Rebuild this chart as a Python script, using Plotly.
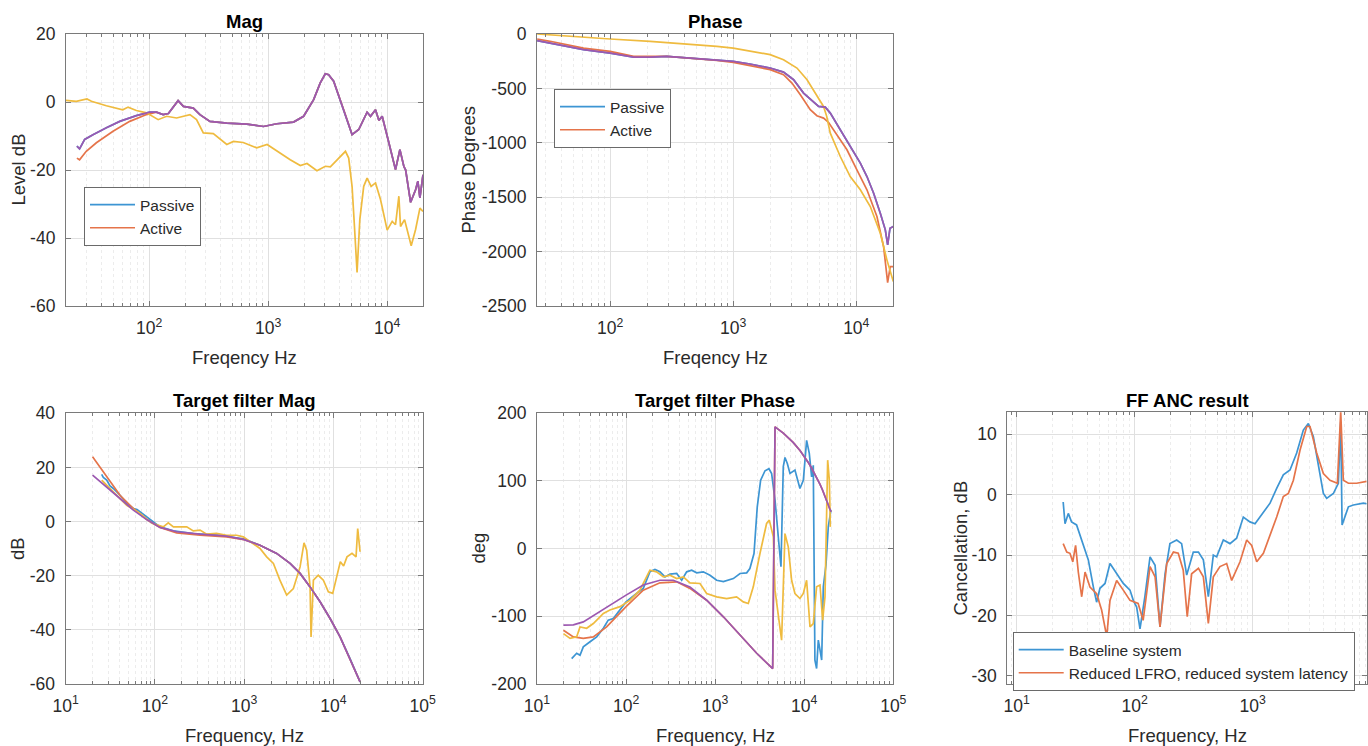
import plotly.graph_objects as go

# ---------------- colours ----------------
BLUE = '#3d95d3'
ORANGE = '#e5744a'
YELLOW = '#efbb3f'
PURPLE = '#9c58b0'

# ---------------- Panel 1 : Mag ----------------
mag_purple_f = [24.7, 26, 28.7, 33.7, 43.7, 56.6, 78, 101, 115, 131, 145, 175, 194, 235, 267, 324, 449, 661, 912, 1183,
                1633, 1985, 2410, 2740, 3020, 3220, 3550, 4310, 5070, 5770, 6780, 7240, 7980, 8510, 9080, 10330, 11750,
                12790, 13800, 14300, 15740, 17330, 18110, 18840, 20000]
mag_purple_db = [-13.0, -13.8, -11.0, -9.6, -7.6, -5.7, -4.0, -3.0, -3.0, -3.7, -3.4, 0.4, -1.3, -1.8, -3.7, -5.7, -6.2,
                 -6.5, -7.2, -6.4, -5.9, -4.2, 0.7, 5.6, 8.3, 8.0, 6.1, -2.3, -9.6, -8.1, -3.0, -4.2, -2.3, -5.4, -4.2,
                 -12, -19.9, -14, -18.9, -20, -29.5, -25.8, -23.3, -28.2, -21.4]
mag_passive_f = mag_purple_f
mag_passive_db = mag_purple_db
mag_active_f = [24.7, 26, 29.6, 36, 49.7, 68.7, 95, 115, 131, 145, 175, 194, 235, 267, 324, 449, 661, 912, 1183, 1633,
                1985, 2410, 2740, 3020, 3220, 3550, 4310, 5070, 5770, 6780, 7240, 7980, 8510, 9080, 10330, 11750,
                12790, 13800, 14300, 15740, 17330, 18110, 18840, 20000]
mag_active_db = [-16.5, -17.0, -14.5, -12.0, -8.6, -5.7, -3.7, -3.0, -3.7, -3.4, 0.4, -1.3, -1.8, -3.7, -5.7, -6.2,
                 -6.5, -7.2, -6.4, -5.9, -4.2, 0.7, 5.6, 8.3, 8.0, 6.1, -2.3, -9.6, -8.1, -3.0, -4.2, -2.3, -5.4, -4.2,
                 -12, -19.9, -14, -18.9, -20, -29.5, -25.8, -23.3, -28.2, -21.4]
mag_yellow_f = [20, 24.4, 30, 32.7, 43.7, 60, 66.5, 78, 95, 119, 140, 170, 220, 250, 285, 346, 449, 510, 617, 802,
                980, 1183, 1532, 1862, 2120, 2570, 3020, 3330, 3793, 4460, 4750, 5070, 5310, 5585, 5890, 6350, 6780,
                7330, 7980, 8790, 10000, 11020, 11750, 12540, 12940, 14000, 15920, 17330, 18840, 20000]
mag_yellow_db = [0.5, 0.2, 0.9, 0.2, -1.1, -2.3, -1.5, -2.5, -3.2, -5.2, -4.2, -4.7, -3.7, -5.2, -9.1, -9.3, -12.5,
                 -11.6, -11.9, -13.5, -12.5, -14.5, -17, -18.7, -18.1, -20.2, -18.9, -19.1, -17, -14.5, -16.5, -24.8,
                 -36.6, -50.1, -34.6, -24.8, -22.4, -24.8, -23.8, -28.7, -37.7, -35.1, -36.1, -27.7, -36.6, -34.6,
                 -42.3, -37.5, -31.2, -32.2]

# ---------------- Panel 2 : Phase ----------------
ph_purple_f = [25.5, 32.5, 44.5, 60.7, 100, 155, 211, 289, 447, 736, 1000, 1368, 1995, 2563, 3094, 3730, 4496, 4943,
               5600, 6150, 7413, 8930, 10790, 12210, 13840, 15680, 17220, 17990, 18800, 20000]
ph_purple_deg = [-61, -83, -113, -144, -175, -212, -212, -205, -221, -236, -251, -276, -313, -350, -420, -543, -620,
                 -666, -672, -727, -880, -1034, -1187, -1310, -1463, -1647, -1800, -1938, -1785, -1770]
ph_passive_f = ph_purple_f
ph_passive_deg = ph_purple_deg
ph_active_f = [25.5, 32.5, 60.7, 100, 155, 289, 736, 1000, 1368, 1995, 2563, 3000, 3510, 4227, 4786, 5420, 5960, 6966,
               8400, 10120, 12210, 14720, 16680, 17990, 18880, 20000]
ph_active_deg = [-46, -67, -129, -159, -205, -205, -242, -261, -291, -328, -374, -451, -558, -696, -751, -773, -813,
                 -926, -1064, -1248, -1432, -1678, -1954, -2285, -2138, -2138]
ph_yellow_f = [25.5, 44.5, 100, 211, 395, 736, 1000, 1368, 1995, 2563, 3296, 3980, 4786, 5420, 5750, 6150, 7413, 8930,
               10790, 13000, 15680, 17740, 20000]
ph_yellow_deg = [0, -21, -46, -67, -89, -113, -129, -159, -190, -236, -313, -420, -573, -666, -757, -911, -1126, -1310,
                 -1432, -1586, -1831, -2076, -2276]

# ---------------- Panel 3 : Target filter Mag ----------------
tm_purple_f = [20, 28.8, 40.6, 57.3, 80.8, 114, 175, 320, 637, 1000, 1503, 2310, 3264, 4227, 5470, 7080, 9170, 11860,
               15350, 19870]
tm_purple_db = [17.1, 12.8, 8.5, 4.2, 0.7, -2.2, -3.8, -4.7, -5.4, -6.7, -8.8, -11.8, -15.5, -19.2, -24.2, -29.7,
                -35.9, -42.7, -50.7, -59.3]
tm_orange_f = [20, 28.8, 40.6, 57.3, 80.8, 114, 175, 320, 637, 1000, 1503, 2310, 3264, 4227, 5470, 7080, 9170, 11860,
               15350, 19870]
tm_orange_db = [23.9, 16.5, 9.7, 4.8, 0.7, -2.2, -4.2, -5.1, -5.7, -6.7, -8.8, -11.8, -15.5, -19.2, -24.2, -29.7,
                -35.9, -42.7, -50.7, -59.3]
tm_blue_f = [25.3, 26.4, 28.8, 31.4, 34.2, 40.6, 48.3, 57.3, 63, 71.7, 92.7, 114, 161, 269, 490, 977]
tm_blue_db = [17.4, 16.3, 15.3, 13.1, 12.2, 9.7, 6.7, 4.8, 4.4, 3.0, -0.1, -2.0, -3.5, -4.5, -5.0, -6.4]
tm_yellow_f = [25.3, 34.2, 48.3, 68, 92.7, 124, 141, 161, 227, 269, 320, 380, 490, 637, 824, 977, 1503, 1786, 2124,
               2512, 2992, 3556, 4227, 4680, 5010, 5470, 5610, 5960, 6760, 7710, 8770, 9810, 11350, 11940, 13000,
               14180, 16140, 17910, 18700, 19870]
tm_yellow_db = [15.3, 11, 6, 3, -0.7, -2, -0.5, -2, -2, -3.5, -3.2, -4.7, -4.4, -5.1, -5.1, -5.7, -10, -13.1, -15.5,
                -21.7, -27.2, -24.8, -16.8, -7.9, -10.6, -24.2, -42.7, -21.7, -19.9, -21.7, -26, -26.6, -18, -14.9,
                -16.5, -13.1, -11.8, -13.1, -2.6, -11.2]

# ---------------- Panel 4 : Target filter Phase ----------------
tp_purple_f = [19.8, 25.6, 33.1, 46.8, 65.9, 100, 156, 240, 339, 521, 803, 1237, 1903, 2927, 4424, 4700, 5820, 6500,
               7500, 8960, 10000, 11000, 12000, 13780, 15000, 16000, 17000, 18000, 19950]
tp_purple_deg = [-113.4, -113, -108.5, -96, -84, -69, -54, -47, -47, -57, -76.5, -101, -128, -155, -177.6, 180, 170.8,
                 165.2, 156.9, 144.9, 136.3, 128.1, 119.8, 105.2, 95.1, 86.9, 78.7, 70.4, 54.3]
tp_orange_f = [19.8, 25.6, 33.1, 42.9, 60.5, 100, 156, 240, 370, 521, 803, 1237, 1903, 2927, 4424]
tp_orange_deg = [-121, -130.7, -133, -130.7, -116, -86, -61.6, -50.8, -49.3, -59, -76.5, -101, -128, -155, -177.6]
tp_blue_f = [24.5, 27.9, 30.4, 33.1, 39.4, 46.8, 55.6, 63, 71.9, 85.5, 100, 131, 156, 185, 211, 240, 273, 311, 370,
             421, 479, 545, 620, 736, 875, 1040, 1237, 1600, 1903, 2260, 2455, 2730, 2970, 3240, 3630, 4020, 4305,
             4700, 5120, 5480, 5820, 6080, 6460, 6920, 7870, 8950, 9770, 10640, 11400, 12110, 12640, 13180, 13770,
             14390, 15030, 15700, 16380, 17540, 18620, 19950]
tp_blue_deg = [-163, -155, -158, -145.5, -138, -130.7, -118, -106, -103.6, -91, -79, -66.6, -59, -34.5, -31, -34.5,
               -42, -38, -37, -47, -34.5, -32, -36, -34.5, -39.5, -47, -49, -44.5, -37, -36, -29.6, -7.4, 61.7, 101,
               115, 118, 111, 71.5, 17.3, -27, 121, 134.6, 125.8, 111, 116, 88.8, 101, 160, 140.6, 106, 123, -165,
               -177.6, -135.6, -150, -165, -56.7, -24.7, 32, 56.7]
tp_yellow_f = [19.8, 23.5, 27.9, 30.4, 36.1, 42.9, 55.6, 65.9, 85.5, 111, 143, 185, 220, 262, 311, 370, 440, 521, 676,
               803, 1040, 1345, 1740, 2070, 2355, 2680, 3185, 3780, 4055, 4500, 4700, 5120, 5570, 6080, 6620, 7220,
               7870, 8950, 9770, 10640, 11610, 12640, 13770, 15030, 16100, 17100, 18330, 19140, 19640]
tp_yellow_deg = [-126, -133, -130.7, -116, -118, -111, -96, -91, -86, -76.5, -61.6, -32, -34.5, -42, -39.5, -44.4,
                 -42, -50.8, -51.8, -66.6, -71.5, -74, -71.5, -79, -81.4, -56.7, -7.4, 37, 42, 17.3, -61.6, -96,
                 -135.6, 22, 2.5, -47, -66.6, -74, -66.6, -47, -116, -111, -56.7, -54, -106, -71.5, 130.7, 101, 32]

# ---------------- Panel 5 : FF ANC result ----------------
anc_base_f = [24.8, 25.7, 27.4, 29.2, 32.2, 36.7, 40.5, 44.7, 47.6, 50.8, 56.1, 61.8, 70.4, 80.1, 91.3, 97.4, 104,
              111, 122, 135, 149, 164, 181, 199, 227, 250, 276, 314, 347, 382, 421, 464, 495, 564, 642, 731, 833,
              948, 1047, 1232, 1403, 1597, 1818, 2071, 2359, 2686, 2963, 3268, 3600, 3971, 4237, 4826, 5320, 5570,
              5720, 6060, 6470, 7130, 8670, 9250]
anc_base_db = [-1.2, -4.8, -3.1, -4.5, -5.0, -8.1, -10.8, -15.3, -17.8, -15.5, -14.7, -11.4, -13.1, -14.7, -15.8,
               -17.5, -18.6, -22.2, -16.9, -10.3, -11.7, -21.9, -13.1, -8.1, -7.5, -8.1, -13.3, -9.5, -9.5, -10.8,
               -16.9, -10.0, -10.3, -7.5, -8.1, -7.2, -3.7, -4.5, -4.8, -2.8, -1.4, 1.05, 3.3, 4.1, 6.9, 10.7, 11.8,
               9.6, 5.2, 0.2, -0.6, 0.2, 1.9, 12.0, -5.0, -3.5, -2.0, -1.7, -1.4, -1.5]
anc_red_f = [24.8, 26.6, 28.3, 29.9, 31.6, 33.3, 35.6, 38, 41.8, 47.6, 52.5, 58, 61.8, 70.4, 80.1, 91.3, 107, 118,
             135, 149, 164, 187, 213, 234, 258, 279, 304, 347, 382, 421, 464, 528, 602, 664, 781, 890, 981, 1082,
             1232, 1403, 1597, 1818, 2004, 2212, 2520, 2870, 3060, 3487, 3971, 4520, 5220, 5570, 5860, 6470, 7600,
             9250]
anc_red_db = [-8.1, -9.5, -9.7, -11.1, -8.4, -12.8, -16.9, -12.8, -15.3, -16.4, -19.1, -23.5, -17.5, -14.2, -15.8,
              -17.5, -18, -20.8, -11.9, -13.6, -21.9, -11.4, -9.5, -9.7, -12.5, -20.2, -13.1, -12.2, -13.6, -21.3,
              -13.6, -11.9, -11.4, -14.2, -11.1, -7.5, -8.4, -11.1, -9.7, -6.7, -3.7, -0.3, 0.2, 2.4, 7.4, 11.3,
              11.3, 6.9, 3.5, 2.4, 1.9, 13.8, 2.4, 1.9, 1.9, 2.2]

# ---------------- tick labels ----------------
xt_dec_234 = [100, 1000, 10000]
xt_dec_234_txt = ['10<sup>2</sup>', '10<sup>3</sup>', '10<sup>4</sup>']
xt_dec_12345 = [10, 100, 1000, 10000, 100000]
xt_dec_12345_txt = ['10<sup>1</sup>', '10<sup>2</sup>', '10<sup>3</sup>', '10<sup>4</sup>', '10<sup>5</sup>']
xt_dec_123 = [10, 100, 1000]
xt_dec_123_txt = ['10<sup>1</sup>', '10<sup>2</sup>', '10<sup>3</sup>']
yt_mag = [-60, -40, -20, 0, 20]
yt_phase = [-2500, -2000, -1500, -1000, -500, 0]
yt_tmag = [-60, -40, -20, 0, 20, 40]
yt_tphase = [-200, -100, 0, 100, 200]
yt_anc = [-30, -20, -10, 0, 10]

W, H = 1368, 746
FONT = 'Liberation Sans, Arial, Helvetica, sans-serif'
AXC = '#7a7a7a'
TXT = '#2a2a2a'


def px_x(v):
    return v / W


def px_y(v):
    return 1 - v / H


fig = go.Figure()


def add(xname, yname, f, v, color, name, legend=None, show=False):
    fig.add_trace(go.Scatter(x=f, y=v, mode='lines', name=name, xaxis=xname, yaxis=yname,
                             line=dict(color=color, width=1.7), showlegend=show,
                             legend=legend if legend else 'legend', hoverinfo='skip'))


# panel 1
add('x', 'y', mag_passive_f, mag_passive_db, BLUE, 'Passive', 'legend', True)
add('x', 'y', mag_active_f, mag_active_db, ORANGE, 'Active', 'legend', True)
add('x', 'y', mag_yellow_f, mag_yellow_db, YELLOW, 'c3')
add('x', 'y', mag_purple_f, mag_purple_db, PURPLE, 'c4')
# panel 2
add('x2', 'y2', ph_passive_f, ph_passive_deg, BLUE, 'Passive', 'legend2', True)
add('x2', 'y2', ph_active_f, ph_active_deg, ORANGE, 'Active', 'legend2', True)
add('x2', 'y2', ph_yellow_f, ph_yellow_deg, YELLOW, 'c3')
add('x2', 'y2', ph_purple_f, ph_purple_deg, PURPLE, 'c4')
# panel 3
add('x3', 'y3', tm_blue_f + tm_purple_f[10:], tm_blue_db + tm_purple_db[10:], BLUE, 'b')
add('x3', 'y3', tm_orange_f, tm_orange_db, ORANGE, 'o')
add('x3', 'y3', tm_yellow_f, tm_yellow_db, YELLOW, 'y')
add('x3', 'y3', tm_purple_f, tm_purple_db, PURPLE, 'p')
# panel 4
add('x4', 'y4', tp_blue_f, tp_blue_deg, BLUE, 'b')
add('x4', 'y4', tp_orange_f + tp_purple_f[15:], tp_orange_deg + tp_purple_deg[15:], ORANGE, 'o')
add('x4', 'y4', tp_yellow_f, tp_yellow_deg, YELLOW, 'y')
add('x4', 'y4', tp_purple_f, tp_purple_deg, PURPLE, 'p')
# panel 5
add('x5', 'y5', anc_base_f, anc_base_db, BLUE, 'Baseline system', 'legend3', True)
add('x5', 'y5', anc_red_f, anc_red_db, ORANGE, 'Reduced LFRO, reduced system latency', 'legend3', True)

domains = {
    1: ([66, 423], [34, 306]),
    2: ([537, 893.3], [34, 306]),
    3: ([65.7, 422.7], [413.3, 683.7]),
    4: ([537, 893.3], [413.3, 683.7]),
    5: ([1007.3, 1366.7], [412.3, 683.7]),
}
xranges = {1: [1.30103, 4.30103], 2: [1.405, 4.301], 3: [1, 5], 4: [1, 5], 5: [0.921, 3.966]}
yranges = {1: [-60, 20], 2: [-2500, 0], 3: [-60, 40], 4: [-200, 200], 5: [-31.3, 13.65]}
xticks = {1: (xt_dec_234, xt_dec_234_txt), 2: (xt_dec_234, xt_dec_234_txt), 3: (xt_dec_12345, xt_dec_12345_txt),
          4: (xt_dec_12345, xt_dec_12345_txt), 5: (xt_dec_123, xt_dec_123_txt)}
yticks = {1: yt_mag, 2: yt_phase, 3: yt_tmag, 4: yt_tphase, 5: yt_anc}

layout = dict(width=W, height=H, margin=dict(l=0, r=0, t=0, b=0, autoexpand=False),
              paper_bgcolor='white', plot_bgcolor='white',
              font=dict(family=FONT, size=17, color=TXT))
for i in range(1, 6):
    (x0, x1), (y0, y1) = domains[i]
    sx = '' if i == 1 else str(i)
    tv, tt = xticks[i]
    layout['xaxis' + sx] = dict(
        type='log', domain=[px_x(x0), px_x(x1)], range=xranges[i], anchor='y' + sx, automargin=False,
        tickmode='array', tickvals=tv, ticktext=tt, ticks='inside', ticklen=5, tickcolor=AXC,
        showline=True, linecolor=AXC, linewidth=1.2, mirror='ticks',
        showgrid=True, gridcolor='#e0e0e0', gridwidth=1, zeroline=False,
        tickfont=dict(size=17.5, color=TXT), ticklabelstandoff=6,
        minor=dict(ticks='inside', ticklen=3, tickcolor=AXC, showgrid=True, gridcolor='#ececec', griddash='dot',
                   dtick='D1'))
    layout['yaxis' + sx] = dict(
        domain=[px_y(y1), px_y(y0)], range=yranges[i], anchor='x' + sx, automargin=False,
        tickmode='array', tickvals=yticks[i], ticktext=[str(v) for v in yticks[i]],
        ticks='inside', ticklen=5, tickcolor=AXC,
        showline=True, linecolor=AXC, linewidth=1.2, mirror='ticks',
        showgrid=True, gridcolor='#e0e0e0', gridwidth=1, zeroline=False,
        tickfont=dict(size=17.5, color=TXT), ticklabelstandoff=6)

leg_common = dict(bgcolor='white', bordercolor='#6a6a6a', borderwidth=1, font=dict(size=15.5, color=TXT),
                  xanchor='left', yanchor='top', tracegroupgap=0, itemwidth=45)
layout['legend'] = dict(leg_common, x=px_x(84), y=px_y(187))
layout['legend2'] = dict(leg_common, x=px_x(554), y=px_y(89))
layout['legend3'] = dict(leg_common, x=px_x(1012.7), y=px_y(632))

annots = []


def ann(text, x, y, size=18.5, bold=False, angle=0):
    annots.append(dict(text='<b>%s</b>' % text if bold else text, x=px_x(x), y=px_y(y), xref='paper', yref='paper',
                       showarrow=False, textangle=angle, xanchor='center', yanchor='middle',
                       font=dict(size=size, color='#000000' if bold else TXT, family=FONT)))


ann('Mag', 244.5, 21, 18.5, True)
ann('Phase', 715, 21, 18.5, True)
ann('Target filter Mag', 244, 400, 18.5, True)
ann('Target filter Phase', 715, 400, 18.5, True)
ann('FF ANC result', 1187, 400, 18.5, True)
ann('Freqency Hz', 244.5, 357)
ann('Freqency Hz', 715, 357)
ann('Frequency, Hz', 244, 735)
ann('Frequency, Hz', 715, 735)
ann('Frequency, Hz', 1187, 735)
ann('Level dB', 17.5, 170, angle=-90)
ann('Phase Degrees', 467.5, 170, angle=-90)
ann('dB', 17.5, 548.5, angle=-90)
ann('deg', 478, 548.5, angle=-90)
ann('Cancellation, dB', 959.5, 548, angle=-90)
layout['annotations'] = annots

fig.update_layout(**layout)
fig.write_html('out.html', config={'displayModeBar': False},
               post_script="document.body.style.margin='0px';document.body.style.overflow='hidden';")
